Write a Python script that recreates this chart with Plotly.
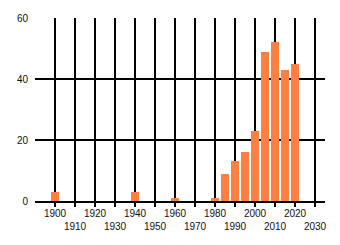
import plotly.graph_objects as go

years = [1900, 1940, 1960, 1980, 1985, 1990, 1995, 2000, 2005, 2010, 2015, 2020]
counts = [3, 3, 1, 1, 9, 13, 16, 23, 49, 52, 43, 45]
tick_years = [1900, 1910, 1920, 1930, 1940, 1950, 1960, 1970, 1980, 1990, 2000, 2010, 2020, 2030]
even_ticks = tick_years[0::2]
odd_ticks = tick_years[1::2]
y_ticks = [0, 20, 40, 60]

fig = go.Figure(go.Bar(x=years, y=counts, width=4, marker=dict(color="#ff7f40", line=dict(width=0))))
# invisible trace to bring the second label axis to life
fig.add_trace(go.Scatter(x=[1890], y=[0], xaxis="x2", mode="markers", marker=dict(opacity=0), hoverinfo="skip"))

font = dict(family="Liberation Sans, Arial, sans-serif", size=10, color="#111")
fig.update_layout(
    width=340, height=245,
    margin=dict(l=35, r=15, t=15, b=44),
    plot_bgcolor="white", paper_bgcolor="white",
    font=font,
    showlegend=False,
    bargap=0,
    xaxis=dict(
        range=[1890, 2035], tickvals=tick_years, ticktext=[str(y) if y in even_ticks else "" for y in tick_years],
        showgrid=True, gridcolor="black", gridwidth=1.5,
        ticks="outside", ticklen=4, tickcolor="black", tickwidth=1.5,
        showline=True, linecolor="black", linewidth=1.5, zeroline=False,
        tickangle=0, ticklabelstandoff=-2,
    ),
    xaxis2=dict(
        range=[1890, 2035], tickvals=odd_ticks, ticktext=[str(y) for y in odd_ticks],
        overlaying="x", side="bottom", anchor="y", showgrid=False, zeroline=False,
        ticks="", showline=False, tickangle=0, ticklabelstandoff=18,
    ),
    yaxis=dict(
        range=[0, 60], tickvals=y_ticks,
        showgrid=True, gridcolor="black", gridwidth=1.5,
        zeroline=False, showline=False, ticks="", ticklabelstandoff=6,
    ),
)

fig.write_html("out.html")
